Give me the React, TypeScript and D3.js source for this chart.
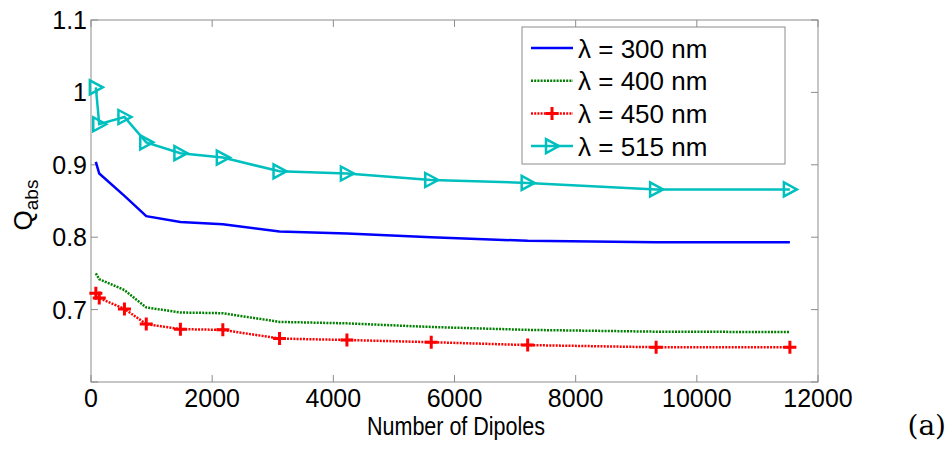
import React, { useEffect, useRef } from 'react';
import * as d3 from 'd3';

// number of dipoles used in each run
const dipoles = [80, 136, 552, 912, 1476, 2176, 3112, 4224, 5616, 7208, 9328, 11536];

const q300 = [0.904, 0.888, 0.857, 0.829, 0.821, 0.818, 0.808, 0.805, 0.800, 0.795, 0.793, 0.793];
const q400 = [0.750, 0.742, 0.727, 0.703, 0.696, 0.695, 0.683, 0.681, 0.676, 0.672, 0.6695, 0.669];
const q450 = [0.7225, 0.716, 0.701, 0.680, 0.673, 0.672, 0.660, 0.658, 0.655, 0.651, 0.648, 0.648];
const q515 = [1.007, 0.956, 0.966, 0.931, 0.916, 0.910, 0.891, 0.888, 0.879, 0.875, 0.866, 0.866];

const xTicks = [0, 2000, 4000, 6000, 8000, 10000, 12000];
const yTicks = [0.6, 0.7, 0.8, 0.9, 1, 1.1];
const yTickLabels = ['', '0.7', '0.8', '0.9', '1', '1.1'];

const seriesNames = ['λ = 300 nm', 'λ = 400 nm', 'λ = 450 nm', 'λ = 515 nm'];

export default function App() {
    const svgRef = useRef<SVGSVGElement>(null);

    useEffect(() => {
        const svg = d3.select(svgRef.current);
        svg.selectAll('*').remove();

        const left = 91, right = 818, top = 20, bottom = 382;
        const font = 'Liberation Sans, Arial, sans-serif';
        const axisColor = '#8c8c8c';

        const x = d3.scaleLinear().domain([0, 12000]).range([left, right]);
        const y = d3.scaleLinear().domain([0.6, 1.1]).range([bottom, top]);

        const series = [
            { name: seriesNames[0], values: q300, color: '#0000ff', dash: null, marker: null },
            { name: seriesNames[1], values: q400, color: '#008000', dash: '2,1.2', marker: null },
            { name: seriesNames[2], values: q450, color: '#ff0000', dash: '2,1.2', marker: 'plus' },
            { name: seriesNames[3], values: q515, color: '#00bfbf', dash: null, marker: 'tri' },
        ];

        const triPath = 'M-6,-7L7,0L-6,7Z';
        const plusPath = 'M-6.5,0H6.5M0,-6.5V6.5';

        // axes box
        svg.append('rect')
            .attr('x', left).attr('y', top)
            .attr('width', right - left).attr('height', bottom - top)
            .attr('fill', 'none').attr('stroke', axisColor).attr('stroke-width', 1);

        const tickLen = 7;
        const ticks = svg.append('g').attr('stroke', axisColor).attr('stroke-width', 1);
        xTicks.forEach(t => {
            ticks.append('line').attr('x1', x(t)).attr('x2', x(t)).attr('y1', bottom).attr('y2', bottom - tickLen);
            ticks.append('line').attr('x1', x(t)).attr('x2', x(t)).attr('y1', top).attr('y2', top + tickLen);
        });
        yTicks.forEach(t => {
            ticks.append('line').attr('x1', left).attr('x2', left + tickLen).attr('y1', y(t)).attr('y2', y(t));
            ticks.append('line').attr('x1', right).attr('x2', right - tickLen).attr('y1', y(t)).attr('y2', y(t));
        });

        svg.append('g').selectAll('text').data(xTicks).join('text')
            .attr('x', d => x(d)).attr('y', 407)
            .attr('text-anchor', 'middle')
            .attr('font-family', font).attr('font-size', 25)
            .text(d => String(d));

        svg.append('g').selectAll('text').data(yTicks).join('text')
            .attr('x', 87).attr('y', d => y(d) + 9)
            .attr('text-anchor', 'end')
            .attr('font-family', font).attr('font-size', 25)
            .text((d, i) => yTickLabels[i]);

        // axis labels
        svg.append('text')
            .attr('x', 456).attr('y', 435)
            .attr('text-anchor', 'middle')
            .attr('font-family', font).attr('font-size', 26)
            .attr('textLength', 178).attr('lengthAdjust', 'spacingAndGlyphs')
            .text('Number of Dipoles');

        const yl = svg.append('text')
            .attr('transform', 'translate(32,205) rotate(-90)')
            .attr('text-anchor', 'middle')
            .attr('font-family', font).attr('font-size', 26);
        yl.append('tspan').text('Q');
        yl.append('tspan').attr('font-size', 19).attr('dy', 6).text('abs');

        svg.append('text')
            .attr('x', 946).attr('y', 435)
            .attr('text-anchor', 'end')
            .attr('font-family', 'DejaVu Serif, serif').attr('font-size', 28)
            .text('(a)');

        const line = d3.line<number>()
            .x((d, i) => x(dipoles[i]))
            .y(d => y(d));

        const plot = svg.append('g');
        series.forEach(s => {
            plot.append('path')
                .attr('d', line(s.values))
                .attr('fill', 'none')
                .attr('stroke', s.color)
                .attr('stroke-width', 2.5)
                .attr('stroke-dasharray', s.dash);
            if (s.marker) {
                plot.append('g').selectAll('path').data(s.values).join('path')
                    .attr('transform', (d, i) => `translate(${x(dipoles[i])},${y(d)})`)
                    .attr('d', s.marker === 'tri' ? triPath : plusPath)
                    .attr('fill', 'none')
                    .attr('stroke', s.color)
                    .attr('stroke-width', s.marker === 'tri' ? 2.5 : 3);
            }
        });

        // legend
        const lg = svg.append('g');
        lg.append('rect')
            .attr('x', 522).attr('y', 27).attr('width', 263).attr('height', 137)
            .attr('fill', '#fff').attr('stroke', axisColor).attr('stroke-width', 1);
        series.forEach((s, i) => {
            const cy = 48 + i * 32.7;
            lg.append('line')
                .attr('x1', 531).attr('x2', 573).attr('y1', cy).attr('y2', cy)
                .attr('stroke', s.color).attr('stroke-width', 2.5)
                .attr('stroke-dasharray', s.dash);
            if (s.marker) {
                lg.append('path')
                    .attr('transform', `translate(552,${cy})`)
                    .attr('d', s.marker === 'tri' ? triPath : plusPath)
                    .attr('fill', 'none').attr('stroke', s.color)
                    .attr('stroke-width', s.marker === 'tri' ? 2.5 : 3);
            }
            lg.append('text')
                .attr('x', 578).attr('y', cy + 9.5)
                .attr('font-family', font).attr('font-size', 26)
                .text(s.name);
        });
    }, []);

    return (
        <svg ref={svgRef} width={952} height={449}
            style={{ position: 'absolute', left: 0, top: 0, background: '#fff' }} />
    );
}
